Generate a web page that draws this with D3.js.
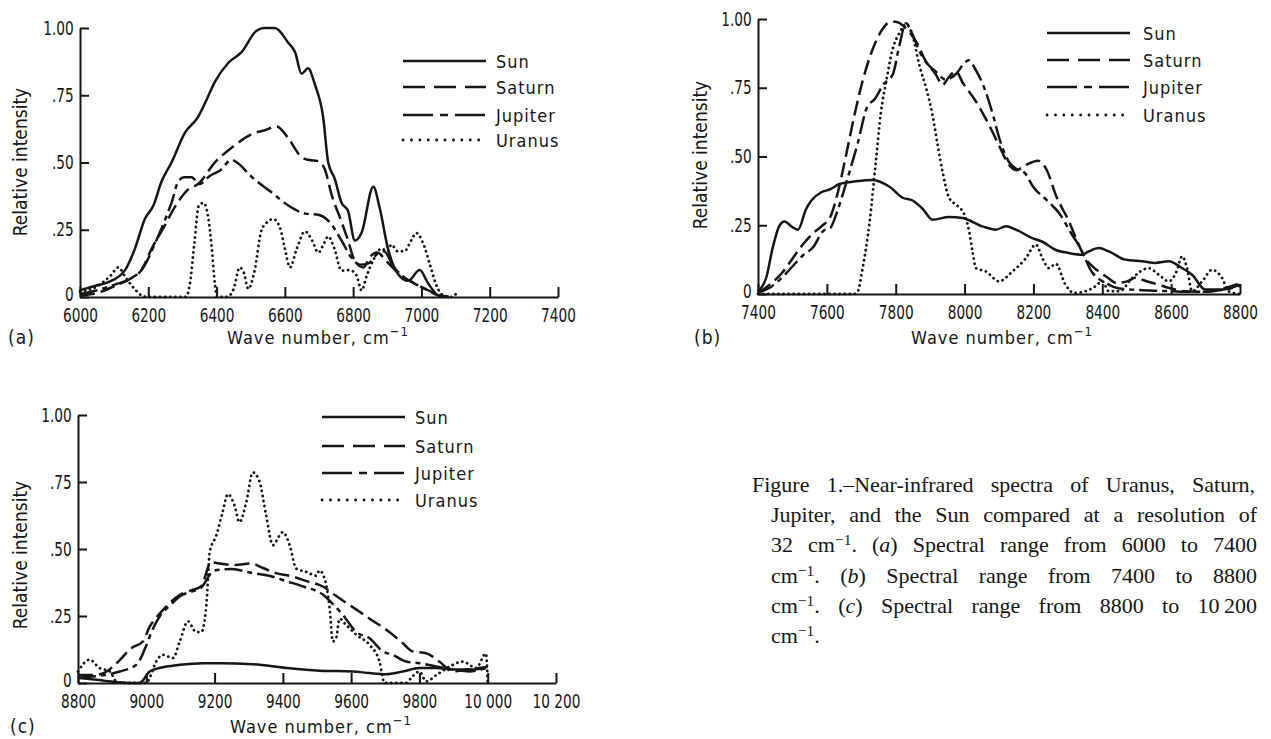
<!DOCTYPE html>
<html>
<head>
<meta charset="utf-8">
<script src="https://cdn.jsdelivr.net/npm/d3@7"></script>
<style>
  body { margin: 0; background: #fff; }
  #wrap { position: relative; width: 1271px; height: 739px; overflow: hidden; }
  .cap { position: absolute; font-family: "Liberation Serif", "Times New Roman", serif; font-size: 22px;
         line-height: 30px; color: #151515; white-space: nowrap; }
  .cap.j { white-space: normal; text-align: justify; text-align-last: justify; }
  .sup { position: relative; top: -0.45em; font-size: 0.7em; }
</style>
</head>
<body>
<div id="wrap"></div>
<script>
'use strict';

const seriesNames = ['Sun', 'Saturn', 'Jupiter', 'Uranus'];

const yTicks = [0, 0.25, 0.5, 0.75, 1];
const yTickLabels = ['0', '.25', '.50', '.75', '1.00'];

const xTicksA = [6000, 6200, 6400, 6600, 6800, 7000, 7200, 7400];
const xTickLabelsA = ['6000', '6200', '6400', '6600', '6800', '7000', '7200', '7400'];
const xTicksB = [7400, 7600, 7800, 8000, 8200, 8400, 8600, 8800];
const xTickLabelsB = ['7400', '7600', '7800', '8000', '8200', '8400', '8600', '8800'];
const xTicksC = [8800, 9000, 9200, 9400, 9600, 9800, 10000, 10200];
const xTickLabelsC = ['8800', '9000', '9200', '9400', '9600', '9800', '10 000', '10 200'];

// (a) 6000 - 7400 cm-1, [wave number, relative intensity]
const sunA = [[6000,.025],[6040,.04],[6083,.055],[6132,.10],[6161,.18],[6190,.29],[6215,.34],[6239,.43],[6268,.50],
  [6307,.61],[6346,.67],[6366,.72],[6395,.80],[6434,.87],[6473,.91],[6517,.99],[6540,1.0],[6571,1.0],[6610,.945],
  [6630,.91],[6649,.83],[6668,.85],[6688,.79],[6712,.67],[6727,.50],[6746,.44],[6766,.35],[6785,.32],[6805,.21],
  [6825,.24],[6859,.41],[6878,.33],[6902,.18],[6932,.085],[6961,.06],[6995,.10],[7020,.05],[7049,.006],[7068,0]];
const saturnA = [[6000,.005],[6050,.015],[6100,.04],[6150,.07],[6180,.10],[6210,.18],[6244,.256],[6278,.335],
  [6317,.40],[6346,.42],[6395,.50],[6444,.555],[6512,.61],[6541,.62],[6576,.634],[6610,.59],[6649,.52],[6668,.51],
  [6698,.505],[6717,.475],[6737,.38],[6766,.28],[6785,.21],[6805,.134],[6830,.11],[6850,.15],[6870,.165],[6900,.13],
  [6940,.08],[6980,.05],[7020,.025],[7060,.005],[7080,0]];
const jupiterA = [[6000,.01],[6050,.025],[6100,.045],[6150,.07],[6180,.10],[6229,.226],[6250,.29],[6268,.35],
  [6288,.43],[6305,.445],[6327,.445],[6350,.42],[6380,.45],[6410,.47],[6444,.51],[6460,.50],[6500,.45],[6560,.39],
  [6610,.34],[6660,.31],[6700,.305],[6730,.28],[6766,.21],[6795,.146],[6820,.12],[6845,.125],[6870,.16],[6890,.17],
  [6920,.11],[6950,.073],[6980,.05],[7010,.03],[7050,.006],[7080,0]];
const uranusA = [[6000,.02],[6050,.04],[6090,.08],[6112,.11],[6135,.07],[6160,.03],[6185,.003],[6200,0],[6310,0],
  [6322,.05],[6335,.2],[6348,.34],[6362,.35],[6375,.30],[6386,.18],[6395,.05],[6402,0],[6430,0],[6450,.03],[6468,.11],
  [6480,.09],[6493,.03],[6510,.09],[6532,.25],[6550,.28],[6566,.29],[6585,.26],[6600,.18],[6615,.11],[6635,.18],
  [6659,.244],[6680,.21],[6698,.165],[6715,.20],[6727,.225],[6745,.18],[6766,.098],[6790,.10],[6810,.08],[6825,.024],
  [6840,.08],[6860,.14],[6883,.18],[6900,.17],[6912,.195],[6930,.17],[6950,.17],[6970,.21],[6985,.238],[7005,.20],
  [7025,.12],[7045,.04],[7065,.005],[7085,0],[7100,.01]];

// (b) 7400 - 8800 cm-1
const sunB = [[7400,.01],[7424,.06],[7443,.17],[7463,.25],[7477,.264],[7497,.246],[7516,.234],[7540,.31],[7555,.34],
  [7584,.37],[7608,.38],[7637,.40],[7685,.41],[7733,.415],[7782,.39],[7820,.35],[7849,.34],[7878,.31],[7907,.27],
  [7955,.28],[7994,.276],[8052,.246],[8091,.234],[8120,.246],[8149,.234],[8197,.203],[8226,.19],[8265,.16],[8303,.149],
  [8342,.143],[8361,.155],[8390,.167],[8419,.155],[8467,.125],[8516,.119],[8554,.113],[8593,.119],[8632,.094],
  [8661,.07],[8699,.016],[8748,.016],[8800,.034]];
const saturnB = [[7400,.004],[7434,.034],[7472,.08],[7501,.13],[7530,.18],[7559,.22],[7588,.25],[7610,.28],[7630,.36],
  [7655,.50],[7680,.65],[7705,.78],[7730,.88],[7760,.96],[7782,.988],[7800,.99],[7830,.966],[7859,.918],[7888,.845],
  [7917,.797],[7936,.76],[7955,.79],[7975,.81],[7994,.77],[8033,.70],[8071,.615],[8100,.54],[8129,.47],[8150,.45],
  [8175,.467],[8213,.485],[8239,.45],[8265,.36],[8303,.264],[8326,.196],[8351,.13],[8374,.098],[8413,.062],[8442,.04],
  [8470,.045],[8500,.06],[8520,.05],[8560,.035],[8600,.02],[8640,.01],[8700,.008],[8750,.02],[8800,.04]];
const jupiterB = [[7400,.005],[7430,.02],[7470,.06],[7500,.10],[7530,.14],[7560,.17],[7590,.23],[7610,.24],[7630,.30],
  [7660,.42],[7690,.55],[7717,.68],[7740,.71],[7763,.76],[7792,.80],[7810,.90],[7830,.985],[7850,.94],[7870,.88],
  [7890,.84],[7915,.81],[7945,.78],[7975,.80],[8000,.84],[8012,.85],[8030,.82],[8060,.74],[8085,.64],[8100,.57],
  [8129,.48],[8150,.455],[8175,.44],[8199,.39],[8240,.34],[8277,.29],[8310,.22],[8335,.17],[8370,.08],[8410,.04],
  [8450,.02],[8500,.015],[8550,.012],[8600,.01],[8650,.008],[8700,.008],[8750,.015],[8800,.03]];
const uranusB = [[7400,0],[7680,0],[7690,.01],[7704,.094],[7724,.26],[7743,.49],[7757,.66],[7772,.77],[7791,.89],
  [7811,.95],[7830,.98],[7849,.94],[7869,.83],[7888,.75],[7907,.65],[7922,.54],[7936,.445],[7955,.35],[7980,.32],
  [7999,.29],[8013,.23],[8023,.155],[8033,.094],[8062,.082],[8100,.046],[8139,.082],[8178,.13],[8207,.18],[8226,.13],
  [8245,.094],[8265,.11],[8293,.034],[8318,.004],[8351,.01],[8380,.028],[8400,.046],[8419,.01],[8450,.01],[8487,.058],
  [8535,.094],[8564,.07],[8593,.046],[8615,.08],[8632,.137],[8646,.094],[8661,.01],[8690,.046],[8719,.088],
  [8748,.058],[8767,.01],[8800,0]];

// (c) 8800 - 10 200 cm-1
const sunC = [[8800,.019],[8854,.012],[8912,.004],[8951,0],[8980,0],[9010,.043],[9039,.056],[9098,.068],[9166,.074],
  [9215,.074],[9312,.07],[9410,.056],[9507,.046],[9605,.043],[9654,.037],[9702,.033],[9751,.043],[9800,.056],
  [9849,.056],[9898,.05],[9946,.05],[9995,.056]];
const saturnC = [[8800,.03],[8850,.03],[8880,.04],[8918,.08],[8956,.13],[8990,.155],[9010,.21],[9040,.26],[9070,.30],
  [9100,.33],[9130,.345],[9160,.36],[9190,.45],[9220,.445],[9260,.44],[9307,.446],[9340,.43],[9380,.41],[9420,.40],
  [9470,.38],[9517,.36],[9550,.33],[9585,.30],[9620,.27],[9654,.24],[9712,.19],[9750,.15],[9780,.118],[9820,.111],
  [9858,.08],[9898,.043],[9940,.05],[9970,.055],[10000,.06]];
const jupiterC = [[8800,.02],[8850,.025],[8880,.03],[8922,.043],[8971,.068],[9000,.14],[9015,.19],[9040,.25],
  [9070,.29],[9100,.325],[9130,.34],[9160,.355],[9190,.41],[9200,.42],[9250,.425],[9312,.41],[9360,.40],[9410,.38],
  [9460,.36],[9517,.33],[9550,.29],[9576,.254],[9615,.19],[9654,.167],[9693,.118],[9722,.105],[9761,.08],[9800,.074],
  [9849,.062],[9898,.05],[9946,.043],[9995,.056]];
const uranusC = [[8800,.043],[8834,.087],[8863,.056],[8893,.043],[8912,.006],[8930,0],[9000,0],[9010,.02],[9029,.08],
  [9049,.105],[9078,.093],[9098,.155],[9122,.23],[9146,.19],[9161,.19],[9176,.29],[9186,.49],[9205,.55],[9224,.64],
  [9239,.705],[9259,.66],[9273,.60],[9293,.675],[9312,.786],[9332,.75],[9351,.625],[9371,.514],[9390,.55],[9400,.563],
  [9420,.514],[9439,.427],[9468,.415],[9498,.40],[9507,.42],[9522,.39],[9537,.28],[9546,.155],[9556,.167],[9566,.24],
  [9585,.217],[9615,.18],[9654,.142],[9683,.08],[9698,0],[9760,0],[9780,.025],[9800,.043],[9820,.006],[9850,.03],
  [9898,.068],[9927,.08],[9966,.056],[9995,.11],[10000,0]];

const ink = '#161616';
const sansNarrow = '"Liberation Sans Narrow", "DejaVu Sans Condensed", "Arial Narrow", sans-serif';

// line styles: plot dash / legend dash
const lineStyles = [
  { plot: null, legend: null, cap: 'butt' },
  { plot: '15,6', legend: '22,9', cap: 'butt' },
  { plot: '18,5,5,5', legend: '30,7,8,7', cap: 'butt' },
  { plot: '0.1,5', legend: '0.1,8.3', cap: 'round' }
];

const panels = [
  { letter: '(a)', domain: [6000, 7400], ticks: xTicksA, tickLabels: xTickLabelsA,
    data: [sunA, saturnA, jupiterA, uranusA],
    x0: 80, x1: 558, yTop: 28, yBot: 297,
    legend: { x0: 403, x1: 486, tx: 496, ys: [61, 87, 115, 140] },
    letterPos: [8, 344], xLabel: [318, 344], yLabel: [20, 162] },
  { letter: '(b)', domain: [7400, 8800], ticks: xTicksB, tickLabels: xTickLabelsB,
    data: [sunB, saturnB, jupiterB, uranusB],
    x0: 758, x1: 1240, yTop: 19, yBot: 294,
    legend: { x0: 1047, x1: 1130, tx: 1143, ys: [33, 60, 87, 115] },
    letterPos: [694, 344], xLabel: [1002, 344], yLabel: [700, 155] },
  { letter: '(c)', domain: [8800, 10200], ticks: xTicksC, tickLabels: xTickLabelsC,
    data: [sunC, saturnC, jupiterC, uranusC],
    x0: 78, x1: 556, yTop: 415, yBot: 683,
    legend: { x0: 322, x1: 405, tx: 415, ys: [417, 446, 473, 500] },
    letterPos: [10, 733], xLabel: [321, 733], yLabel: [20, 555] }
];

const svg = d3.select('#wrap').append('svg')
  .attr('width', 1271)
  .attr('height', 739)
  .style('position', 'absolute')
  .style('left', 0)
  .style('top', 0);

function drawPanel(p) {
  const g = svg.append('g');
  const x = d3.scaleLinear().domain(p.domain).range([p.x0, p.x1]);
  const y = d3.scaleLinear().domain([0, 1]).range([p.yBot, p.yTop]);

  const xAxis = g.append('g')
    .attr('transform', `translate(0,${p.yBot})`)
    .call(d3.axisBottom(x).tickValues(p.ticks).tickFormat((d, i) => p.tickLabels[i])
      .tickSize(-10).tickSizeOuter(0).tickPadding(12));

  const yAxis = g.append('g')
    .attr('transform', `translate(${p.x0},0)`)
    .call(d3.axisLeft(y).tickValues(yTicks).tickFormat((d, i) => yTickLabels[i])
      .tickSize(-9).tickSizeOuter(0).tickPadding(8));

  [xAxis, yAxis].forEach(a => {
    a.attr('font-family', sansNarrow).attr('font-size', 19);
    a.selectAll('path, line').attr('stroke', ink).attr('stroke-width', 2);
    // squeeze the digits, the original face is narrow and tall
    a.selectAll('text').attr('fill', ink).attr('transform', 'scale(0.8,1)');
  });
  // lift the zero a bit so it clears the first x label
  yAxis.selectAll('.tick text').filter(d => d === 0).attr('dy', '0.2em');

  const line = d3.line()
    .x(d => x(d[0]))
    .y(d => y(d[1]))
    .curve(d3.curveMonotoneX);

  p.data.forEach((series, i) => {
    const st = lineStyles[i];
    g.append('path')
      .datum(series)
      .attr('d', line)
      .attr('fill', 'none')
      .attr('stroke', ink)
      .attr('stroke-width', i === 3 ? 2.8 : 2.5)
      .attr('stroke-linecap', st.cap)
      .attr('stroke-linejoin', 'round')
      .attr('stroke-dasharray', st.plot);
  });

  // legend
  seriesNames.forEach((name, i) => {
    const st = lineStyles[i];
    const ly = p.legend.ys[i];
    g.append('line')
      .attr('x1', p.legend.x0).attr('x2', p.legend.x1)
      .attr('y1', ly).attr('y2', ly)
      .attr('stroke', ink)
      .attr('stroke-width', i === 3 ? 2.8 : 2.6)
      .attr('stroke-linecap', st.cap)
      .attr('stroke-dasharray', st.legend);
    g.append('text')
      .attr('x', p.legend.tx).attr('y', ly + 7)
      .attr('font-family', sansNarrow).attr('font-size', 18)
      .attr('letter-spacing', 1)
      .attr('fill', ink)
      .text(name);
  });

  // axis titles
  g.append('text')
    .attr('transform', `translate(${p.yLabel[0]},${p.yLabel[1]}) rotate(-90)`)
    .attr('text-anchor', 'middle')
    .attr('dominant-baseline', 'central')
    .attr('font-family', sansNarrow).attr('font-size', 19)
    .attr('fill', ink)
    .text('Relative intensity');

  const xl = g.append('text')
    .attr('x', p.xLabel[0]).attr('y', p.xLabel[1])
    .attr('text-anchor', 'middle')
    .attr('font-family', sansNarrow).attr('font-size', 18)
    .attr('letter-spacing', 1)
    .attr('fill', ink);
  xl.append('tspan').text('Wave number, cm');
  xl.append('tspan').attr('dy', -8).attr('font-size', 13).text('\u22121');

  g.append('text')
    .attr('x', p.letterPos[0]).attr('y', p.letterPos[1])
    .attr('font-family', sansNarrow).attr('font-size', 19)
    .attr('letter-spacing', 1)
    .attr('fill', ink)
    .text(p.letter);
}

panels.forEach(drawPanel);

// caption
const captionLines = [
  { left: 752, top: 470, width: 503, html: 'Figure 1.\u2013Near-infrared spectra of Uranus, Saturn,' },
  { left: 771, top: 500, width: 486, html: 'Jupiter, and the Sun compared at a resolution of' },
  { left: 771, top: 530, width: 486, html: '32 cm<span class="sup">\u22121</span>. (<i>a</i>) Spectral range from 6000 to 7400' },
  { left: 771, top: 561, width: 486, html: 'cm<span class="sup">\u22121</span>. (<i>b</i>) Spectral range from 7400 to 8800' },
  { left: 771, top: 591, width: 486, html: 'cm<span class="sup">\u22121</span>. (<i>c</i>) Spectral range from 8800 to 10&#8201;200' },
  { left: 771, top: 621, width: null, html: 'cm<span class="sup">\u22121</span>.' }
];

d3.select('#wrap').selectAll('div.cap')
  .data(captionLines)
  .join('div')
  .attr('class', d => d.width ? 'cap j' : 'cap')
  .style('left', d => d.left + 'px')
  .style('top', d => d.top + 'px')
  .style('width', d => d.width ? d.width + 'px' : null)
  .html(d => d.html);
</script>
</body>
</html>
